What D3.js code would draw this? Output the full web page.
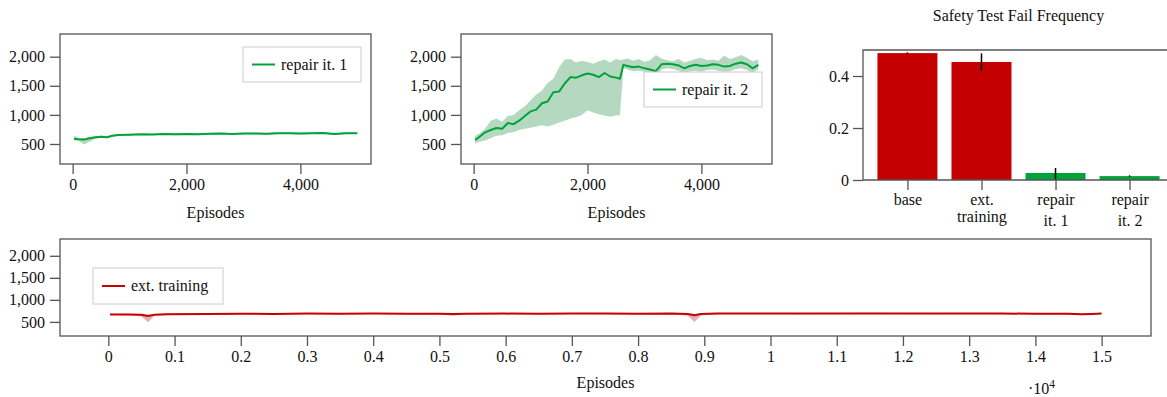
<!DOCTYPE html>
<html>
<head>
<meta charset="utf-8">
<script src="https://cdn.jsdelivr.net/npm/d3@7"></script>
<style>
  html, body { margin: 0; padding: 0; background: #fff; }
  svg { display: block; font-family: "Liberation Serif", "Times New Roman", serif; }
  svg text { font-family: "Liberation Serif", "Times New Roman", serif; }
</style>
</head>
<body>
<div id="chart"></div>
<script>
// episode rewards, repair iteration 1
const rep1Episodes = [25, 100, 200, 300, 400, 500, 600, 700, 800, 1000, 1200, 1400, 1600, 1800, 2000, 2200, 2400, 2600, 2800, 3000, 3200, 3400, 3600, 3800, 4000, 4200, 4400, 4600, 4800, 5000];
const rep1Mean = [590, 580, 575, 600, 615, 625, 615, 640, 655, 660, 668, 662, 670, 668, 672, 666, 675, 678, 672, 680, 682, 676, 684, 686, 680, 684, 688, 670, 686, 684];
const rep1Lo = [560, 560, 490, 540, 590, 605, 598, 625, 640, 645, 652, 648, 655, 652, 658, 650, 660, 662, 657, 665, 668, 660, 670, 672, 665, 670, 674, 655, 672, 672];
const rep1Hi = [640, 605, 600, 625, 630, 640, 632, 655, 668, 674, 682, 676, 684, 682, 686, 680, 690, 692, 686, 694, 696, 690, 698, 700, 694, 698, 702, 684, 700, 696];

// episode rewards, repair iteration 2
const rep2Episodes = [25, 100, 200, 300, 400, 500, 600, 700, 800, 900, 1000, 1100, 1200, 1300, 1400, 1500, 1600, 1700, 1800, 1900, 2000, 2100, 2200, 2300, 2400, 2500, 2570, 2630, 2700, 2800, 2900, 3000, 3100, 3200, 3300, 3400, 3500, 3600, 3700, 3800, 3900, 4000, 4100, 4200, 4300, 4400, 4500, 4600, 4700, 4800, 4900, 5000];
const rep2Mean = [570, 620, 700, 740, 775, 760, 860, 840, 900, 980, 1060, 1090, 1200, 1230, 1390, 1400, 1540, 1650, 1640, 1680, 1710, 1690, 1650, 1720, 1660, 1640, 1620, 1860, 1840, 1820, 1830, 1800, 1780, 1750, 1870, 1880, 1870, 1850, 1800, 1840, 1860, 1840, 1850, 1870, 1860, 1830, 1840, 1880, 1900, 1870, 1800, 1860];
const rep2Lo = [510, 540, 560, 600, 640, 650, 690, 700, 740, 760, 780, 800, 820, 800, 830, 870, 900, 940, 960, 1000, 1080, 1040, 1010, 990, 970, 990, 1000, 1800, 1780, 1750, 1760, 1740, 1690, 1640, 1780, 1800, 1790, 1760, 1720, 1750, 1760, 1740, 1770, 1780, 1760, 1740, 1750, 1790, 1800, 1770, 1720, 1790];
const rep2Hi = [640, 680, 760, 900, 940, 880, 980, 1000, 1080, 1150, 1250, 1350, 1420, 1550, 1620, 1820, 1950, 1960, 1900, 1930, 1910, 1880, 1920, 1950, 1900, 1960, 1940, 1950, 1970, 1930, 1960, 1910, 1940, 2030, 1970, 1940, 1920, 1960, 1900, 1930, 1960, 1980, 1940, 1950, 1930, 2020, 1960, 1990, 2030, 1980, 1920, 1950];

// episode rewards, extended training
const extEpisodes = [25, 300, 500, 600, 700, 900, 1500, 2000, 2500, 3000, 3500, 4000, 4500, 5000, 5200, 5400, 6000, 6500, 7000, 7500, 8000, 8500, 8750, 8850, 8950, 9200, 9500, 10000, 10500, 11000, 11500, 12000, 12500, 13000, 13500, 14000, 14500, 14700, 14850, 15000];
const extMean = [670, 668, 660, 635, 665, 675, 680, 685, 682, 688, 686, 690, 685, 683, 678, 684, 688, 685, 690, 688, 686, 690, 680, 650, 678, 688, 690, 692, 688, 690, 693, 690, 688, 691, 689, 686, 684, 672, 680, 690];
const extLo = [655, 650, 620, 490, 645, 660, 668, 672, 670, 675, 673, 678, 672, 668, 640, 670, 675, 672, 677, 675, 673, 676, 640, 500, 650, 675, 678, 680, 675, 678, 680, 677, 675, 678, 676, 672, 670, 655, 665, 678];
const extHi = [685, 683, 675, 660, 680, 688, 692, 697, 694, 700, 698, 702, 697, 695, 690, 696, 700, 697, 702, 700, 698, 702, 695, 680, 692, 700, 702, 704, 700, 702, 705, 702, 700, 703, 701, 698, 696, 686, 692, 702];

// safety test fail frequency
const barLabels = [["base"], ["ext.", "training"], ["repair", "it. 1"], ["repair", "it. 2"]];
const barValues = [0.488, 0.454, 0.027, 0.015];
const barErrLo = [0.485, 0.42, 0.0, 0.013];
const barErrHi = [0.491, 0.487, 0.046, 0.018];
const barKinds = ["fail", "fail", "repair", "repair"];

const rewardTicks = [500, 1000, 1500, 2000];
const shortTicks = [0, 2000, 4000];
const longTicks = d3.range(0, 15001, 1000);
const barTicks = [0, 0.2, 0.4];

const W = 1167, H = 397;
const FONT = 16;
const SERIF = "'Liberation Serif', 'Times New Roman', serif";
const TEXT = "#111";
const FRAME = "#555";
const GREEN = "#00a33a", GREEN_BAND = "#b5d9c0";
const RED = "#c80000", RED_BAND = "#e6b0b0";

const svg = d3.select("#chart").append("svg")
  .attr("width", W).attr("height", H)
  .attr("viewBox", `0 0 ${W} ${H}`)
  .attr("font-family", SERIF);

function styleAxis(g) {
  g.attr("font-family", SERIF).attr("font-size", FONT);
  g.select(".domain").remove();
  g.selectAll(".tick line").attr("stroke", FRAME).attr("stroke-width", 1.3);
  g.selectAll(".tick text").attr("fill", TEXT).attr("font-size", FONT).attr("font-family", SERIF);
}

function linePanel(cfg) {
  const x = d3.scaleLinear().domain(cfg.xDomain).range([cfg.x0, cfg.x1]);
  const y = d3.scaleLinear().domain(cfg.yDomain).range([cfg.y1, cfg.y0]);
  const g = svg.append("g");
  const idx = d3.range(cfg.ep.length);

  g.append("path")
    .datum(idx)
    .attr("fill", cfg.band)
    .attr("d", d3.area().x((i) => x(cfg.ep[i])).y0((i) => y(cfg.lo[i])).y1((i) => y(cfg.hi[i])));

  g.append("path")
    .datum(idx)
    .attr("fill", "none")
    .attr("stroke", cfg.color)
    .attr("stroke-width", 2)
    .attr("stroke-linejoin", "round")
    .attr("d", d3.line().x((i) => x(cfg.ep[i])).y((i) => y(cfg.mean[i])));

  g.append("g")
    .attr("transform", `translate(0,${cfg.y1})`)
    .call(d3.axisBottom(x).tickValues(cfg.xTicks).tickFormat(cfg.xFmt).tickSize(10).tickSizeOuter(0).tickPadding(5))
    .call(styleAxis);

  g.append("g")
    .attr("transform", `translate(${cfg.x0},0)`)
    .call(d3.axisLeft(y).tickValues(rewardTicks).tickFormat(d3.format(",")).tickSize(10).tickSizeOuter(0).tickPadding(5))
    .call(styleAxis);

  g.append("rect")
    .attr("x", cfg.x0).attr("y", cfg.y0)
    .attr("width", cfg.x1 - cfg.x0).attr("height", cfg.y1 - cfg.y0)
    .attr("fill", "none").attr("stroke", FRAME).attr("stroke-width", 1.3);

  g.append("text")
    .attr("x", (cfg.x0 + cfg.x1) / 2).attr("y", cfg.labelY)
    .attr("text-anchor", "middle").attr("fill", TEXT).attr("font-size", FONT)
    .text("Episodes");

  const lg = cfg.legend;
  const leg = g.append("g");
  leg.append("rect")
    .attr("x", lg.x).attr("y", lg.y).attr("width", lg.w).attr("height", lg.h)
    .attr("fill", "#fff").attr("stroke", "#cccccc").attr("stroke-width", 1);
  leg.append("line")
    .attr("x1", lg.x + 9).attr("x2", lg.x + 32)
    .attr("y1", lg.y + lg.h / 2).attr("y2", lg.y + lg.h / 2)
    .attr("stroke", cfg.color).attr("stroke-width", 2);
  leg.append("text")
    .attr("x", lg.x + 38).attr("y", lg.y + lg.h / 2 + 5)
    .attr("fill", TEXT).attr("font-size", FONT)
    .text(cfg.name);
  return g;
}

linePanel({
  x0: 60, x1: 371, y0: 34, y1: 164,
  xDomain: [-222, 5240], yDomain: [156, 2390],
  xTicks: shortTicks, xFmt: d3.format(","), labelY: 218,
  ep: rep1Episodes, mean: rep1Mean, lo: rep1Lo, hi: rep1Hi,
  color: GREEN, band: GREEN_BAND, name: "repair it. 1",
  legend: { x: 243, y: 47, w: 118, h: 35 }
});

linePanel({
  x0: 461, x1: 772, y0: 34, y1: 164,
  xDomain: [-222, 5240], yDomain: [156, 2390],
  xTicks: shortTicks, xFmt: d3.format(","), labelY: 218,
  ep: rep2Episodes, mean: rep2Mean, lo: rep2Lo, hi: rep2Hi,
  color: GREEN, band: GREEN_BAND, name: "repair it. 2",
  legend: { x: 644, y: 72, w: 118, h: 35 }
});

linePanel({
  x0: 60, x1: 1151, y0: 239, y1: 336,
  xDomain: [-730, 15746], yDomain: [180, 2381],
  xTicks: longTicks, xFmt: (d) => String(+(d / 1e4).toFixed(1)), labelY: 388,
  ep: extEpisodes, mean: extMean, lo: extLo, hi: extHi,
  color: RED, band: RED_BAND, name: "ext. training",
  legend: { x: 93, y: 268, w: 130, h: 36 }
});

// scale factor note under the long axis
svg.append("text")
  .attr("x", 1028).attr("y", 394)
  .attr("fill", TEXT).attr("font-size", FONT)
  .text("·10")
  .append("tspan").attr("dy", -6).attr("font-size", 11.5).text("4");

// bar chart
(function () {
  const x0 = 863, x1 = 1174, y0 = 50, y1 = 180;
  const x = d3.scaleLinear().domain([-0.6, 3.6]).range([x0, x1]);
  const y = d3.scaleLinear().domain([0, 0.5]).range([y1, y0]);
  const g = svg.append("g");
  const half = 0.405;

  g.selectAll("rect.bar")
    .data(barValues)
    .join("rect")
    .attr("class", "bar")
    .attr("x", (d, i) => x(i - half))
    .attr("width", (d, i) => x(i + half) - x(i - half))
    .attr("y", (d) => y(d))
    .attr("height", (d) => y(0) - y(d))
    .attr("fill", (d, i) => (barKinds[i] === "fail" ? "#c40000" : "#00a33a"));

  g.selectAll("line.err")
    .data(barValues)
    .join("line")
    .attr("class", "err")
    .attr("x1", (d, i) => x(i)).attr("x2", (d, i) => x(i))
    .attr("y1", (d, i) => y(barErrLo[i])).attr("y2", (d, i) => y(barErrHi[i]))
    .attr("stroke", "#000").attr("stroke-width", 1.5);

  g.append("g")
    .attr("transform", `translate(${x0},0)`)
    .call(d3.axisLeft(y).tickValues(barTicks).tickFormat((d) => (d === 0 ? "0" : d3.format(".1f")(d))).tickSize(10).tickSizeOuter(0).tickPadding(4))
    .call(styleAxis);

  const xa = g.append("g")
    .attr("transform", `translate(0,${y1})`)
    .call(d3.axisBottom(x).tickValues(d3.range(barLabels.length)).tickFormat("").tickSize(10).tickSizeOuter(0))
    .call(styleAxis);

  xa.selectAll(".tick").each(function (d) {
    const t = d3.select(this).append("text")
      .attr("text-anchor", "middle").attr("fill", TEXT).attr("font-size", FONT);
    const lines = barLabels[d];
    t.append("tspan").attr("x", 0).attr("y", 25).text(lines[0]);
    if (lines[1]) {
      t.append("tspan").attr("x", 0).attr("y", lines[0] === "repair" ? 46 : 42).text(lines[1]);
    }
  });

  g.append("path")
    .attr("d", `M${x0},${y1}V${y0}H${x1}V${y1}Z`)
    .attr("fill", "none").attr("stroke", FRAME).attr("stroke-width", 1.3);

  g.append("text")
    .attr("x", (x0 + x1) / 2).attr("y", 21)
    .attr("text-anchor", "middle").attr("fill", TEXT).attr("font-size", FONT)
    .text("Safety Test Fail Frequency");
})();
</script>
</body>
</html>
